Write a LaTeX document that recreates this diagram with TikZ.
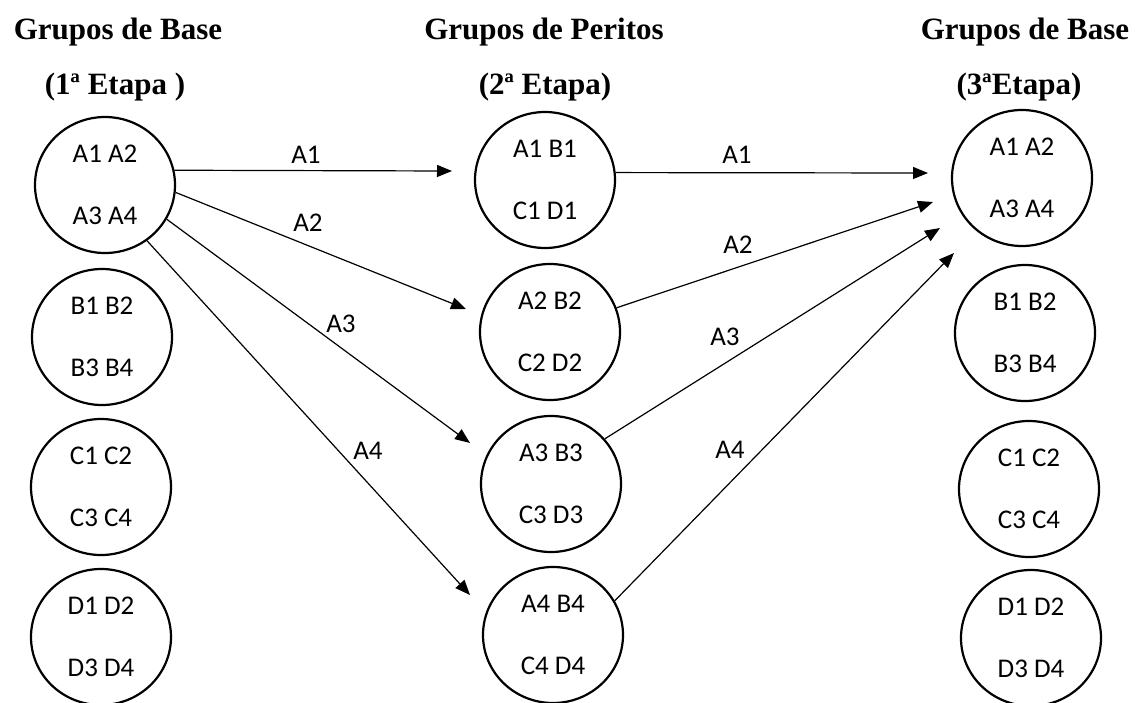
\documentclass[tikz,border=0pt]{standalone}
\usepackage{fontspec}
\setmainfont{Carlito}
\newfontfamily\titlefont{Liberation Serif}
\usetikzlibrary{arrows.meta,shapes.geometric}
\begin{document}
\begin{tikzpicture}[x=1pt,y=-1pt,
  grp/.style={ellipse, draw, line width=2.2pt, minimum width=140pt, minimum height=136pt,
    inner sep=0pt, align=center, font=\fontsize{27}{62}\selectfont},
  ttl/.style={font=\titlefont\bfseries\fontsize{31}{36}\selectfont, anchor=base, inner sep=0pt},
  lbl/.style={font=\fontsize{27}{30}\selectfont, inner sep=0pt},
  arr/.style={line width=1.2pt, -{Triangle[length=15pt,width=12pt]}}]
\useasboundingbox (0,0) rectangle (1136,702);
% titles
\node[ttl] (t1a) at (118,39) {Grupos de Base};
\node[ttl] (t1b) at (115,94) {(1ª Etapa )};
\node[ttl] (t2a) at (544,39) {Grupos de Peritos};
\node[ttl] (t2b) at (545,94) {(2ª Etapa)};
\node[ttl] (t3a) at (1025,39) {Grupos de Base};
\node[ttl] (t3b) at (1019,94) {(3ªEtapa)};
% left column
\node[grp] (la) at (105,185) {A1 A2\\A3 A4};
\node[grp] (lb) at (102,337) {B1 B2\\B3 B4};
\node[grp] (lc) at (101,487) {C1 C2\\C3 C4};
\node[grp] (ld) at (101,637) {D1 D2\\D3 D4};
% middle column
\node[grp] (ma) at (545,180) {A1 B1\\C1 D1};
\node[grp] (mb) at (550,332) {A2 B2\\C2 D2};
\node[grp] (mc) at (551,484) {A3 B3\\C3 D3};
\node[grp] (md) at (553,635) {A4 B4\\C4 D4};
% right column
\node[grp] (ra) at (1022,178) {A1 A2\\A3 A4};
\node[grp] (rb) at (1025,333) {B1 B2\\B3 B4};
\node[grp] (rc) at (1029,489) {C1 C2\\C3 C4};
\node[grp] (rd) at (1031,638) {D1 D2\\D3 D4};
% arrow end points
\coordinate (e1) at (452,171);
\coordinate (e2) at (466,309);
\coordinate (e3) at (470,443);
\coordinate (e4) at (470,595);
\coordinate (f1) at (928,173);
\coordinate (f2) at (933,202);
\coordinate (f3) at (940,228);
\coordinate (f4) at (954,253);
% arrows stage 1 -> 2
\draw[arr] (la.12) -- (e1);
\draw[arr] (la.-6) -- (e2);
\draw[arr] (la.-29) -- (e3);
\draw[arr] (la.-53) -- (e4);
% arrows stage 2 -> 3
\draw[arr] (ma.6) -- (f1);
\draw[arr] (mb.20) -- (f2);
\draw[arr] (mc.40) -- (f3);
\draw[arr] (md.29) -- (f4);
% labels
\node[lbl] (l1) at (306,155) {A1};
\node[lbl] (l2) at (308,223) {A2};
\node[lbl] (l3) at (341,324) {A3};
\node[lbl] (l4) at (368,451) {A4};
\node[lbl] (m1) at (737,155) {A1};
\node[lbl] (m2) at (738,245) {A2};
\node[lbl] (m3) at (725,337) {A3};
\node[lbl] (m4) at (730,450) {A4};
\end{tikzpicture}
\end{document}
